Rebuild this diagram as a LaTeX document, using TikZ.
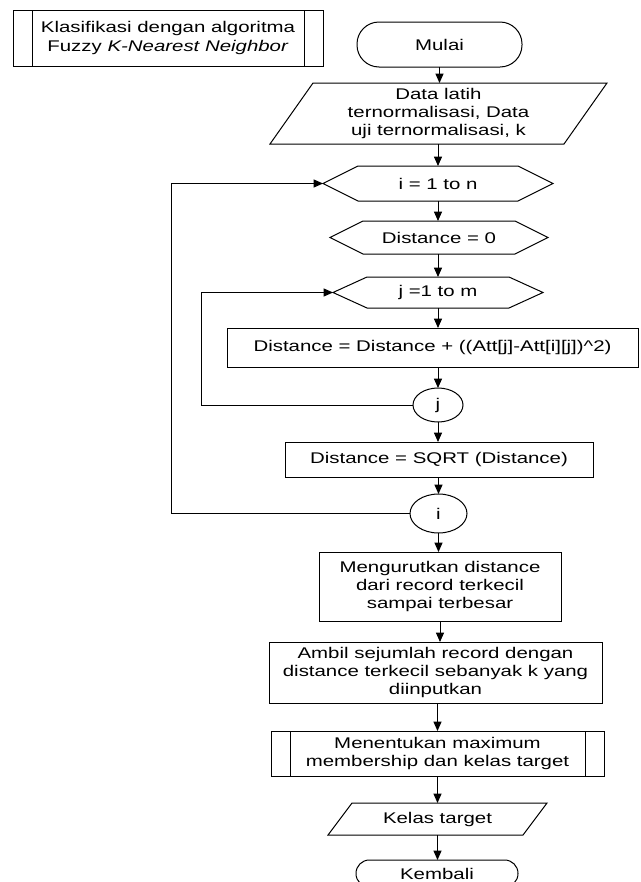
\documentclass[tikz,border=0pt]{standalone}
\usepackage{fontspec}
\setmainfont{Liberation Sans}[FakeStretch=1.32]
\usetikzlibrary{arrows.meta,calc,shapes.geometric}
\newcommand\hexo[2]{\draw (#1.west) -- ($(#1.north west)+(#2,0)$) -- ($(#1.north east)+(-#2,0)$) -- (#1.east) -- ($(#1.south east)+(-#2,0)$) -- ($(#1.south west)+(#2,0)$) -- cycle;}
\newcommand\parao[2]{\draw ($(#1.north west)+(#2,0)$) -- (#1.north east) -- ($(#1.south east)+(-#2,0)$) -- (#1.south west) -- cycle;}
\newcommand\barso[2]{\draw ($(#1.north west)+(#2,0)$) -- ($(#1.south west)+(#2,0)$); \draw ($(#1.north east)+(-#2,0)$) -- ($(#1.south east)+(-#2,0)$);}
\begin{document}
\begin{tikzpicture}[x=0.75pt,y=-0.75pt, line width=0.75pt,
  every node/.style={font=\fontsize{11.6pt}{13.2pt}\selectfont, inner sep=0pt, outer sep=0pt, align=center},
  sz/.style 2 args={minimum width={#1*0.75pt}, minimum height={#2*0.75pt}},
  arr/.style={-{Triangle[length=7pt,width=6pt]}},
  box/.style={draw, rectangle},
  term/.style={draw, rectangle, rounded corners=16.5pt},
  conn/.style={draw, ellipse},
]
\useasboundingbox (0,0) rectangle (640,882);
\clip (0,0) rectangle (640,882);

% title
\node[box, sz={310}{56}, font=\fontsize{11.6pt}{13.7pt}\selectfont] (title) at (168,38) {Klasifikasi dengan algoritma\\Fuzzy \textit{K-Nearest Neighbor}};
\barso{title}{19}

% flow
\node[term, sz={165}{45}] (mulai) at (439.5,44.5) {Mulai};
\node[sz={337}{61}, font=\fontsize{11.6pt}{13.7pt}\selectfont] (data) at (438.5,113.5) {Data latih\\ternormalisasi, Data\\uji ternormalisasi, k};
\parao{data}{43}
\node[sz={230}{35}] (ihex) at (438,183.5) {i = 1 to n};
\hexo{ihex}{35}
\node[sz={218}{33}] (dzero) at (439,237.5) {Distance = 0};
\hexo{dzero}{33}
\node[sz={210}{31}] (jhex) at (438,292.5) {j =1 to m};
\hexo{jhex}{34}
\node[box, sz={411}{39}] (dsum) at (432.5,347.5) {Distance = Distance + ((Att[j]-Att[i][j])\textasciicircum 2)};
\node[conn, sz={50}{34}] (jc) at (438,405) {j};
\node[box, sz={308}{35}] (dsqrt) at (439,459.5) {Distance = SQRT (Distance)};
\node[conn, sz={57}{39}] (ic) at (438.5,513.5) {i};
\node[box, sz={242}{69}] (sort) at (440,586.5) {Mengurutkan distance\\dari record terkecil\\sampai terbesar};
\node[box, sz={333}{61}] (ambil) at (435.5,672.5) {Ambil sejumlah record dengan\\distance terkecil sebanyak k yang\\diinputkan};
\node[box, sz={333}{45}] (tentu) at (437.5,753.5) {Menentukan maximum\\membership dan kelas target};
\barso{tentu}{19}
\node[sz={219}{32}] (kelas) at (437.5,819) {Kelas target};
\parao{kelas}{24}
\node[draw, rectangle, rounded corners=10pt, sz={162}{27}] (kembali) at (437,873.5) {Kembali};

% connectors
\coordinate (iloop) at (171,0);
\coordinate (jloop) at (201,0);
\draw[arr] (mulai.south) -- (mulai.south |- data.north);
\draw[arr] (ihex.north |- data.south) -- (ihex.north);
\draw[arr] (ihex.south) -- (ihex.south |- dzero.north);
\draw[arr] (jhex.north |- dzero.south) -- (jhex.north);
\draw[arr] (jhex.south) -- (jhex.south |- dsum.north);
\draw[arr] (jc.north |- dsum.south) -- (jc.north);
\draw[arr] (jc.south) -- (jc.south |- dsqrt.north);
\draw[arr] (ic.north |- dsqrt.south) -- (ic.north);
\draw[arr] (ic.south) -- (ic.south |- sort.north);
\draw[arr] (sort.south) -- (sort.south |- ambil.north);
\draw[arr] (tentu.north |- ambil.south) -- (tentu.north);
\draw[arr] (tentu.south) -- (tentu.south |- kelas.north);
\draw[arr] (kelas.south) -- (kelas.south |- kembali.north);
\draw[arr] (jc.west) -- (jc.west -| jloop) |- (jhex.west);
\draw[arr] (ic.west) -- (ic.west -| iloop) |- (ihex.west);
\end{tikzpicture}
\end{document}
